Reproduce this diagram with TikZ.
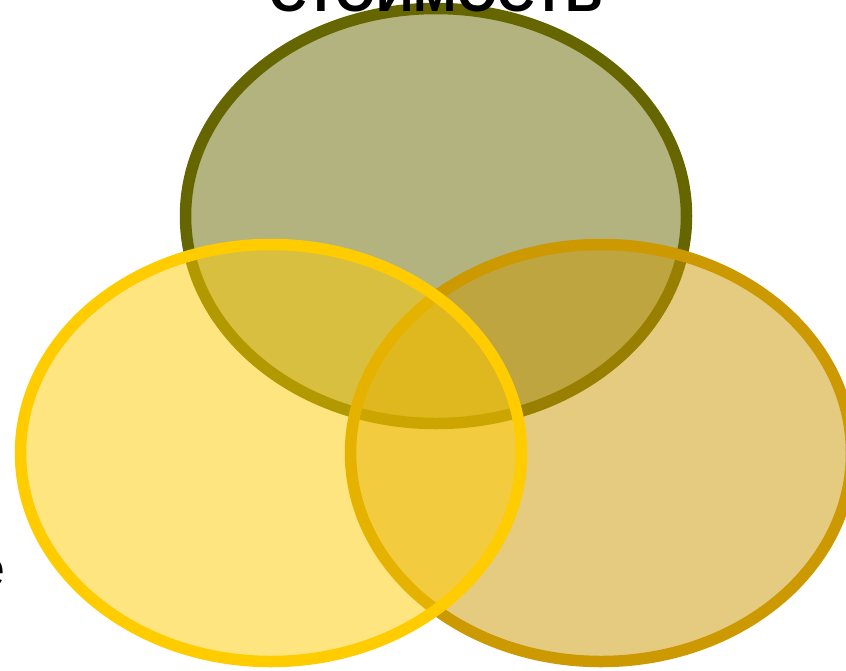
\documentclass[tikz,border=0pt]{standalone}
\usepackage{fontspec}
\setmainfont{Liberation Sans}
\begin{document}
\begin{tikzpicture}[x=1pt,y=-1pt,
  venn/.style={line width=11.5pt},
  lbl/.style={inner sep=0pt,font=\fontsize{52}{60}\selectfont}]
\definecolor{olivebd}{HTML}{666600}
\definecolor{olivefl}{HTML}{B3B380}
\definecolor{yellowbd}{HTML}{FFCC00}
\definecolor{goldbd}{HTML}{CC9900}
\useasboundingbox (0,0) rectangle (846,670);
\clip (0,0) rectangle (846,670);
\fill[white] (0,0) rectangle (846,670);
\coordinate (ctop) at (436,216);
\coordinate (cleft) at (271,453);
\coordinate (cright) at (601,453);
\filldraw[venn,draw=olivebd,fill=olivefl] (ctop) ellipse [x radius=250.5, y radius=207.5];
\filldraw[venn,draw=goldbd,fill=goldbd,fill opacity=0.5,draw opacity=1] (cright) ellipse [x radius=250.5, y radius=208.5];
\filldraw[venn,draw=yellowbd,fill=yellowbd,fill opacity=0.5,draw opacity=1] (cleft) ellipse [x radius=250.5, y radius=208.5];
\node[lbl,anchor=base,font=\fontsize{52}{60}\selectfont\bfseries] (title) at (436,11) {СТОИМОСТЬ};
\node[lbl,anchor=base east] (left) at (6,586) {е};
\end{tikzpicture}
\end{document}
